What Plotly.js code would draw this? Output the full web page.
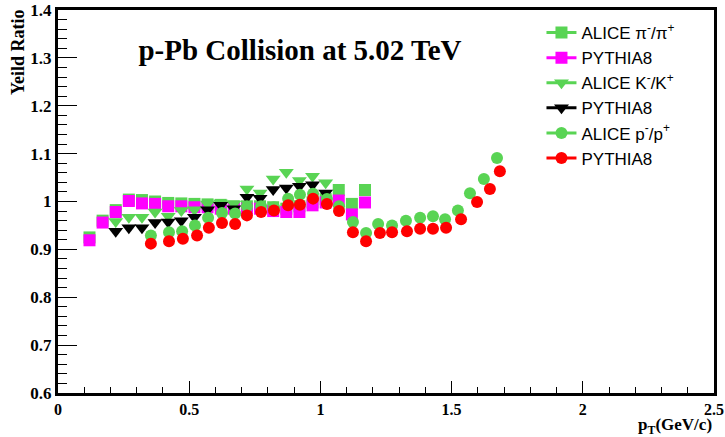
<!DOCTYPE html>
<html><head><meta charset="utf-8">
<script src="https://cdn.plot.ly/plotly-3.0.1.min.js"></script>
<style>html,body{margin:0;padding:0;background:#fff}#c{width:725px;height:437px}</style>
</head><body><div id="c"></div>
<script>
// ---- data ----
const piPt = [0.12,0.17,0.22,0.27,0.32,0.37,0.42,0.47,0.52,0.57,0.62,0.67,0.72,0.77,0.82,0.87,0.92,0.97,1.02,1.07,1.12,1.17];
const piAlice = [0.925,0.960,0.982,1.004,1.003,1.000,0.997,0.996,0.995,0.994,0.993,0.990,0.990,0.990,0.988,0.985,0.990,0.998,1.005,1.024,0.995,1.024];
const piPythia = [0.919,0.956,0.978,1.001,0.996,0.995,0.990,0.990,0.988,0.988,0.985,0.985,0.985,0.985,0.980,0.978,0.978,0.992,0.998,1.002,0.973,0.998];

const kPt = [0.22,0.27,0.32,0.37,0.42,0.47,0.52,0.57,0.62,0.67,0.72,0.77,0.82,0.87,0.92,0.97,1.02];
const kAlice = [0.958,0.967,0.967,0.978,0.969,0.981,0.983,0.995,0.997,0.995,1.026,1.018,1.047,1.061,1.044,1.053,1.039];
const kPythia = [0.938,0.945,0.945,0.956,0.957,0.960,0.967,0.983,0.992,0.985,1.009,1.007,1.025,1.028,1.032,1.035,1.018];

const pPtAlice = [0.354,0.423,0.473,0.522,0.572,0.625,0.675,0.720,0.774,0.823,0.877,0.922,0.972,1.025,1.071,1.124,1.174,1.220,1.273,1.326,1.380,1.429,1.475,1.524,1.570,1.623,1.673];
const pAlice = [0.929,0.936,0.938,0.950,0.966,0.976,0.975,0.990,0.990,0.988,1.006,1.014,1.016,1.005,0.990,0.957,0.934,0.953,0.950,0.960,0.966,0.969,0.963,0.981,1.017,1.047,1.091];
const pPtPythia = [0.354,0.423,0.476,0.530,0.575,0.625,0.675,0.720,0.774,0.823,0.877,0.922,0.972,1.025,1.071,1.124,1.174,1.227,1.273,1.330,1.380,1.429,1.479,1.536,1.597,1.646,1.684];
const pPythia = [0.912,0.917,0.922,0.929,0.945,0.955,0.953,0.971,0.978,0.981,0.992,0.993,1.006,0.995,0.980,0.936,0.917,0.934,0.936,0.938,0.943,0.943,0.945,0.963,0.999,1.026,1.063];

const seriesNames = ['ALICE π<sup>-</sup>/π<sup>+</sup>','PYTHIA8','ALICE K<sup>-</sup>/K<sup>+</sup>','PYTHIA8','ALICE p<sup>-</sup>/p<sup>+</sup>','PYTHIA8'];
const xTickVals = [0,0.5,1,1.5,2,2.5];
const xTickText = ['0','0.5','1','1.5','2','2.5'];
const yTickVals = [0.6,0.7,0.8,0.9,1.0,1.1,1.2,1.3,1.4];
const yTickText = ['0.6','0.7','0.8','0.9','1','1.1','1.2','1.3','1.4'];

// ---- build ----
const GREEN = '#59d454';
// interleave gaps so that no line joins the points, while the legend still shows a line
function gapped(a){ const o=[]; a.forEach((v,i)=>{ if(i) o.push(null); o.push(v); }); return o; }
function tr(x,y,name,color,symbol,size){
  return {x:gapped(x), y:gapped(y), name:name, type:'scatter', mode:'lines+markers',
    connectgaps:false, line:{color:color,width:3},
    marker:{color:color,symbol:symbol,size:size,line:{width:0}}, cliponaxis:true};
}
const data = [
  tr(piPt,piAlice,seriesNames[0],GREEN,'square',12),
  tr(piPt,piPythia,seriesNames[1],'#ff00ff','square',12),
  tr(kPt,kAlice,seriesNames[2],GREEN,'triangle-down',13),
  tr(kPt,kPythia,seriesNames[3],'#000000','triangle-down',13),
  tr(pPtAlice,pAlice,seriesNames[4],GREEN,'circle',12),
  tr(pPtPythia,pPythia,seriesNames[5],'#ff0000','circle',12)
];

const serif = 'Liberation Serif, Times New Roman, serif';
const layout = {
  width:725, height:437,
  margin:{l:58,r:11,t:10,b:44},
  paper_bgcolor:'#fff', plot_bgcolor:'#fff',
  showlegend:true,
  title:{text:'p-Pb Collision at 5.02 TeV', x:300/725, xanchor:'center', y:1-50/437, yanchor:'middle',
    font:{family:serif,size:29,weight:'bold',color:'#000'}},
  xaxis:{range:[0,2.5], showgrid:false, zeroline:false, showline:true, mirror:true, linewidth:3, linecolor:'#000',
    ticks:'inside', ticklen:12, tickwidth:1, tickcolor:'#000',
    tickvals:xTickVals, ticktext:xTickText,
    minor:{ticks:'inside', ticklen:6, tickwidth:1, tickcolor:'#000', dtick:0.1},
    tickfont:{family:serif,size:16,weight:'bold',color:'#000'},
    title:{text:''}},
  yaxis:{range:[0.6,1.4], showgrid:false, zeroline:false, showline:true, mirror:true, linewidth:3, linecolor:'#000',
    ticks:'inside', ticklen:19, tickwidth:1, tickcolor:'#000',
    tickvals:yTickVals, ticktext:yTickText,
    minor:{ticks:'inside', ticklen:9, tickwidth:1, tickcolor:'#000', dtick:0.02},
    tickfont:{family:serif,size:17,weight:'bold',color:'#000'},
    title:{text:''}},
  legend:{x:0.737, xanchor:'left', y:(393-15)/383, yanchor:'top', bgcolor:'rgba(0,0,0,0)',
    font:{family:'Liberation Sans, Arial, sans-serif',size:17,color:'#000'}, tracegroupgap:0, itemwidth:30},
  annotations:[
    {text:'Yeild Ratio', xref:'paper', yref:'paper', x:-40/656, y:(393-52)/383, xanchor:'center', yanchor:'middle',
     textangle:-90, showarrow:false, font:{family:serif,size:18,weight:'bold',color:'#000'}},
    {text:'p<sub>T</sub>(GeV/c)', xref:'paper', yref:'paper', x:1, y:-20/383, xanchor:'right', yanchor:'top',
     showarrow:false, font:{family:serif,size:17,weight:'bold',color:'#000'}}
  ]
};
Plotly.newPlot('c', data, layout, {displayModeBar:false, staticPlot:true});
</script></body></html>
